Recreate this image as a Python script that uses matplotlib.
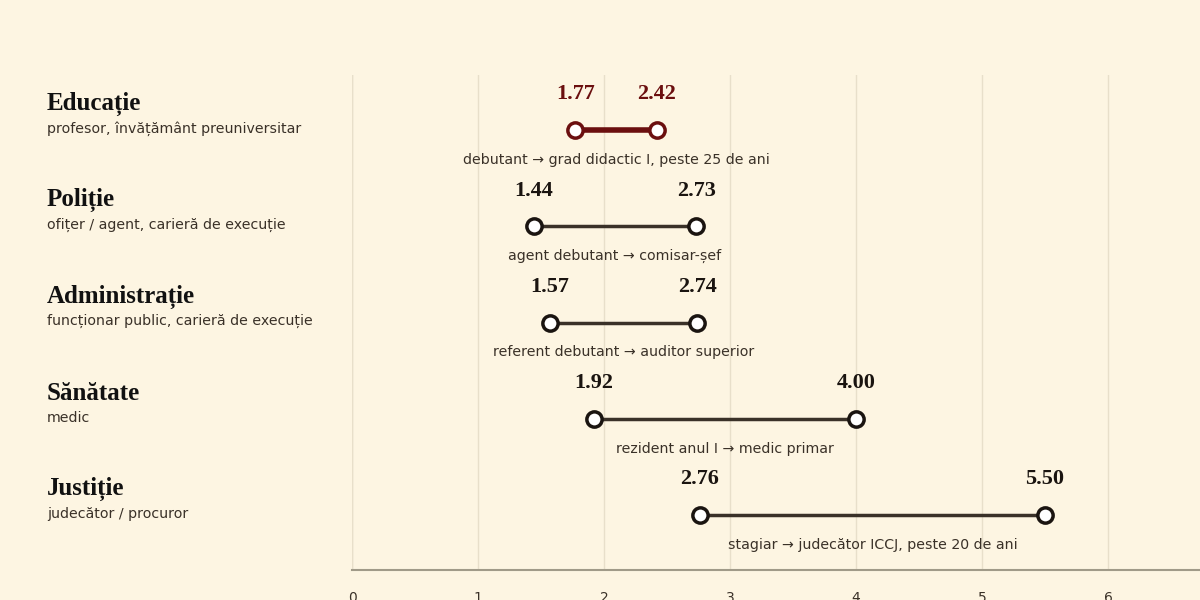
import matplotlib.pyplot as plt

sectors = ["Educație", "Poliție", "Administrație", "Sănătate", "Justiție"]
subtitles = ["profesor, învățământ preuniversitar", "ofițer / agent, carieră de execuție",
             "funcționar public, carieră de execuție", "medic", "judecător / procuror"]
start = [1.77, 1.44, 1.57, 1.92, 2.76]
end = [2.42, 2.73, 2.74, 4.00, 5.50]
paths = ["debutant → grad didactic I, peste 25 de ani", "agent debutant → comisar-șef",
         "referent debutant → auditor superior", "rezident anul I → medic primar",
         "stagiar → judecător ICCJ, peste 20 de ani"]

bg = "#fdf5e2"
fig = plt.figure(figsize=(12, 6), dpi=100, facecolor=bg)
ax = fig.add_axes([0.2935, 0.05, 0.7065, 0.825], facecolor=bg)
ax.set_xlim(0, 848 / 126)
ax.set_ylim(4.57, -0.57)

for i in range(len(sectors)):
    col = "#6b0f0f" if i == 0 else "#3a3128"
    lw = 4 if i == 0 else 2.5
    ax.plot([start[i], end[i]], [i, i], color=col, lw=lw, zorder=3, solid_capstyle="butt")
    ax.plot([start[i], end[i]], [i, i], "o", ms=11, mfc="white", mec="#6b0f0f" if i == 0 else "#1a1410",
            mew=2.5, zorder=4)
    tc = "#6b0f0f" if i == 0 else "#1a1410"
    for v in (start[i], end[i]):
        ax.text(v, i - 0.37, f"{v:.2f}", ha="center", va="center", fontsize=16, fontweight="bold",
                family="Liberation Serif", color=tc)
    ax.text((start[i] + end[i]) / 2, i + 0.31, paths[i], ha="center", va="center", fontsize=10.2,
            color="#3a3128")
    yf = 0.05 + 0.825 * (4.57 - i) / 5.14
    fig.text(0.039, yf + 0.043, sectors[i], fontsize=18, fontweight="bold", family="Liberation Serif",
             va="center", color="#111")
    fig.text(0.039, yf + 0.002, subtitles[i], fontsize=10.2, va="center", color="#3a3128")

ax.set_xticks(range(7))
ax.grid(axis="x", color="#e8dfca", lw=1)
ax.set_axisbelow(True)
for s in ("top", "right", "left"):
    ax.spines[s].set_visible(False)
ax.spines["bottom"].set_color("#a09a88")
ax.spines["bottom"].set_linewidth(1.5)
ax.tick_params(axis="x", length=0, labelsize=10, colors="#3a3128", pad=15)
ax.set_yticks([])
ax.axvline(0, color="#e8dfca", lw=1)

fig.savefig("out.png", facecolor=bg)
